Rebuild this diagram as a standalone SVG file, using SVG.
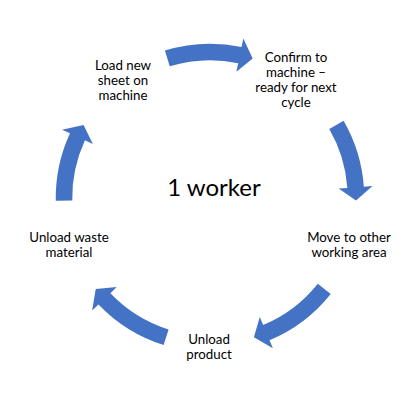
<svg xmlns="http://www.w3.org/2000/svg" width="413" height="401" viewBox="0 0 413 401">
<style>
.lbl{font-family:Lato,"Liberation Sans",sans-serif;font-size:13.3px;fill:#000;text-anchor:middle}
.ctr{font-family:Lato,"Liberation Sans",sans-serif;font-size:24px;fill:#000;text-anchor:middle}
.arr{fill:#4472C4;stroke:none}
</style>
<rect width="413" height="401" fill="#fff"/>
<g id="connectors">
<path class="arr" d="M164.90,50.49 A154.25,154.25 0 0 1 241.54,47.01 L243.33,38.44 L252.69,58.38 L236.38,71.73 L238.17,63.16 A137.75,137.75 0 0 0 169.73,66.27 Z"/>
<path class="arr" d="M343.58,120.87 A154.25,154.25 0 0 1 363.84,186.70 L372.56,186.06 L355.98,200.55 L338.65,188.55 L347.38,187.91 A137.75,137.75 0 0 0 329.30,129.12 Z"/>
<path class="arr" d="M330.72,294.02 A154.25,154.25 0 0 1 269.53,340.30 L272.90,348.37 L253.90,337.24 L259.78,317.01 L263.16,325.08 A137.75,137.75 0 0 0 317.80,283.75 Z"/>
<path class="arr" d="M163.62,345.11 A154.25,154.25 0 0 1 98.48,304.57 L92.16,310.61 L95.74,288.89 L116.74,287.12 L110.41,293.17 A137.75,137.75 0 0 0 168.58,329.38 Z"/>
<path class="arr" d="M55.77,200.69 A154.25,154.25 0 0 1 69.98,133.30 L62.03,129.63 L83.56,125 L92.90,143.89 L84.95,140.22 A137.75,137.75 0 0 0 72.27,200.40 Z"/>
</g>
<g id="center"><text class="ctr" x="214" y="196">1 worker</text></g>
<g id="load"><text class="lbl" x="123" y="70">Load new</text><text class="lbl" x="123" y="85">sheet on</text><text class="lbl" x="123" y="100">machine</text></g>
<g id="confirm"><text class="lbl" x="296" y="62">Confirm to</text><text class="lbl" x="296" y="77">machine –</text><text class="lbl" x="296" y="92">ready for next</text><text class="lbl" x="296" y="107">cycle</text></g>
<g id="move"><text class="lbl" x="349" y="242">Move to other</text><text class="lbl" x="349" y="257">working area</text></g>
<g id="product"><text class="lbl" x="209" y="344">Unload</text><text class="lbl" x="209" y="359">product</text></g>
<g id="waste"><text class="lbl" x="69" y="242">Unload waste</text><text class="lbl" x="69" y="257">material</text></g>
</svg>
